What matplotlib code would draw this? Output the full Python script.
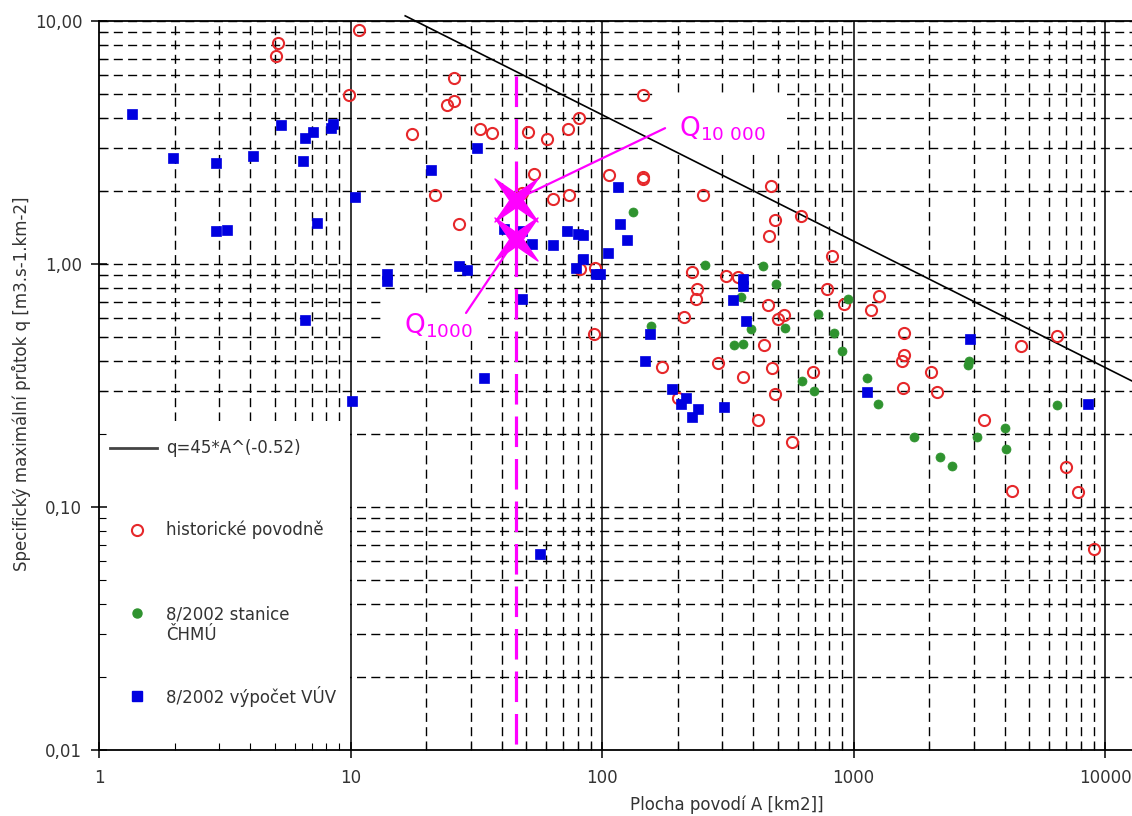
import numpy as np
import matplotlib
matplotlib.use("Agg")
from matplotlib import pyplot as plt
from matplotlib import ticker
from matplotlib.patches import Rectangle
from matplotlib.path import Path
from matplotlib.transforms import Affine2D

plt.rcParams['font.family'] = ['DejaVu Sans']
plt.rcParams['lines.scale_dashes'] = False

#-----------------------------------------------------------------------------------------
# values (area A in km2, specific discharge q in m3.s-1.km-2)

hist_area = [10.8, 5.15, 5.05, 9.86, 25.8, 25.8, 24.2, 17.6, 32.7, 36.5, 50.8, 60.4, 73.3,
             81.0, 145.5, 53.7, 106.6, 145.5, 145.5, 21.7, 63.8, 73.9, 27.0, 252, 48.1,
             228, 311, 347, 93.8, 81.8, 470, 487, 461, 618, 822, 239, 237, 212, 457, 529,
             501, 785, 917, 1174, 1263, 92.9, 441, 173, 289, 364, 474, 690, 487, 201, 417,
             569, 1588, 1588, 1560, 1574, 2033, 2148, 4634, 6443, 3303, 7000, 4266, 7812,
             9040]
hist_q = [9.14, 8.08, 7.21, 4.98, 5.85, 4.70, 4.53, 3.44, 3.60, 3.47, 3.50, 3.28, 3.60,
          4.00, 4.98, 2.35, 2.33, 2.28, 2.24, 1.93, 1.85, 1.93, 1.46, 1.93, 1.96,
          0.927, 0.892, 0.884, 0.963, 0.954, 2.10, 1.52, 1.30, 1.58, 1.08, 0.789, 0.717,
          0.604, 0.678, 0.616, 0.593, 0.789, 0.684, 0.646, 0.738, 0.514, 0.464, 0.376,
          0.391, 0.342, 0.372, 0.359, 0.291, 0.280, 0.227, 0.186, 0.519, 0.421, 0.398,
          0.308, 0.359, 0.297, 0.459, 0.505, 0.227, 0.146, 0.116, 0.115, 0.0674]

chmu_area = [132.8, 257, 437, 492, 357, 722, 951, 157, 391, 534, 836, 335, 364, 900, 624,
             697, 1132, 1251, 1741, 2208, 2465, 2878, 2855, 3098, 4002, 4038, 6443]
chmu_q = [1.64, 0.99, 0.98, 0.827, 0.731, 0.622, 0.717, 0.555, 0.540, 0.545, 0.519, 0.464,
          0.468, 0.438, 0.329, 0.299, 0.339, 0.265, 0.194, 0.160, 0.148, 0.398, 0.383,
          0.195, 0.211, 0.173, 0.262]

vuv_area = [1.35, 1.97, 2.92, 4.10, 2.92, 3.23, 5.29, 6.59, 7.10, 6.47, 7.36, 8.36, 8.52,
            10.4, 6.59, 10.1, 20.9, 31.8, 14.0, 14.0, 27.0, 29.1, 40.8, 48.1, 52.7, 63.8,
            72.6, 80.3, 84.0, 84.0, 78.8, 94.7, 98.2, 105.7, 115.8, 118, 125.7, 48.1, 34.0,
            56.7, 155, 148, 190, 216, 206, 241, 228, 305, 364, 364, 332, 374, 1132, 2905,
            8550]
vuv_q = [4.16, 2.74, 2.61, 2.79, 1.37, 1.38, 3.74, 3.31, 3.50, 2.66, 1.48, 3.64, 3.78,
         1.89, 0.588, 0.272, 2.44, 3.01, 0.91, 0.85, 0.98, 0.945, 1.39, 1.37, 1.21, 1.20,
         1.37, 1.33, 1.32, 1.05, 0.96, 0.91, 0.91, 1.11, 2.08, 1.46, 1.26, 0.717, 0.339,
         0.0643, 0.514, 0.398, 0.305, 0.280, 0.265, 0.252, 0.234, 0.257, 0.867, 0.812,
         0.711, 0.582, 0.297, 0.491, 0.265]

# envelope q = 45*A^(-0.52), end points as drawn
env_area = [16.5, 12800]
env_q = [10.5, 0.33]

# design catchment and the two marked discharges
site_area = 45.5
site_top_q = 5.96
star_q = [1.84, 1.27]

#-----------------------------------------------------------------------------------------

red = '#e6282b'
green = '#2f932f'
blue = '#0000e0'
grey = '#333333'
mag = '#ff00ff'

fig = plt.figure(figsize=(11.32, 8.16), dpi=100)
ax = fig.add_axes([99 / 1132, 66 / 816, 1033 / 1132, 729 / 816])
ax.set_xscale('log')
ax.set_yscale('log')
ax.set_xlim(1, 12800)
ax.set_ylim(0.01, 10)

ax.xaxis.set_major_locator(ticker.LogLocator(base=10, numticks=20))
ax.yaxis.set_major_locator(ticker.LogLocator(base=10, numticks=20))
ax.xaxis.set_minor_locator(ticker.LogLocator(base=10, subs=np.arange(2, 10), numticks=50))
ax.yaxis.set_minor_locator(ticker.LogLocator(base=10, subs=np.arange(2, 10), numticks=50))
ax.xaxis.set_major_formatter(ticker.FuncFormatter(lambda v, p: f'{v:.0f}'))
ax.yaxis.set_major_formatter(ticker.FuncFormatter(lambda v, p: f'{v:.2f}'.replace('.', ',')))
ax.xaxis.set_minor_formatter(ticker.NullFormatter())
ax.yaxis.set_minor_formatter(ticker.NullFormatter())

# ===== grid (drawn by hand so the white boxes can hide it) =====
x0, x1 = ax.get_xlim()
y0, y1 = ax.get_ylim()
xmaj = [v for v in ax.xaxis.get_majorticklocs() if x0 < v <= x1]
xmin = [v for v in ax.xaxis.get_minorticklocs() if x0 < v < x1]
ymaj = [v for v in ax.yaxis.get_majorticklocs() if y0 < v <= y1]
ymin = [v for v in ax.yaxis.get_minorticklocs() if y0 < v < y1]
dash = (0, (6.5, 3.8))
ax.vlines(xmaj, y0, y1, colors='k', lw=1.1, zorder=1)
ax.vlines(xmin, y0, y1, colors='k', lw=1.0, linestyles=[dash], zorder=1)
ax.hlines(ymaj + ymin, x0, x1, colors='k', lw=1.0, linestyles=[dash], zorder=1)

# white boxes behind legend and labels
for (bx, by, bw, bh) in [(0.0, 0.0, 0.243, 0.451),
                         (0.538, 0.820, 0.128, 0.081),
                         (0.275, 0.562, 0.102, 0.065)]:
    ax.add_patch(Rectangle((bx, by), bw, bh, transform=ax.transAxes,
                           facecolor='white', edgecolor='none', zorder=1.5))

# ===== data =====
ax.plot(env_area, env_q, color='k', lw=1.2, zorder=2.5, clip_on=False)
ax.plot(hist_area, hist_q, ls='none', marker='o', ms=8, mfc='none', mec=red, mew=1.5, zorder=3)
ax.plot(chmu_area, chmu_q, ls='none', marker='o', ms=6.5, mfc=green, mec=green, mew=0.5, zorder=3)
ax.plot(vuv_area, vuv_q, ls='none', marker='s', ms=7.5, mfc=blue, mec=blue, mew=0.5, zorder=3)

# ===== magenta marks =====
ax.plot([site_area, site_area], [site_top_q, y0], color=mag, lw=2.3, dashes=(22, 8.6), zorder=4)
ax.annotate('', xy=(site_area, star_q[0]), xytext=(0.548, 0.853), textcoords='axes fraction',
            arrowprops=dict(arrowstyle='-', color=mag, lw=1.6, shrinkA=0, shrinkB=0), zorder=4)
ax.annotate('', xy=(site_area, star_q[1]), xytext=(0.3553, 0.5995), textcoords='axes fraction',
            arrowprops=dict(arrowstyle='-', color=mag, lw=1.6, shrinkA=0, shrinkB=0), zorder=4)
star = Path.unit_regular_star(4, innerCircle=0.22).transformed(Affine2D().rotate_deg(45))
ax.plot([site_area] * 2, star_q, ls='none', marker=star, ms=31, color=mag, zorder=5)
ax.text(0.5615, 0.841, r'$\mathregular{Q_{10\ 000}}$', transform=ax.transAxes,
        fontsize=19, color=mag, va='baseline', zorder=6)
ax.text(0.295, 0.572, r'$\mathregular{Q_{1000}}$', transform=ax.transAxes,
        fontsize=19, color=mag, va='baseline', zorder=6)

# ===== legend (drawn in the lower left box) =====
lx, tx = 0.0368, 0.0649
ax.plot([0.0106, 0.0562], [0.414, 0.414], transform=ax.transAxes, color='#444444', lw=2, zorder=3)
ax.plot(lx, 0.302, transform=ax.transAxes, marker='o', ms=8, mfc='none', mec=red, mew=1.5, zorder=3)
ax.plot(lx, 0.188, transform=ax.transAxes, marker='o', ms=6.5, color=green, zorder=3)
ax.plot(lx, 0.074, transform=ax.transAxes, marker='s', ms=7.5, color=blue, zorder=3)
for ty, lab in [(0.414, 'q=45*A^(-0.52)'), (0.302, 'historické povodně'),
                (0.172, '8/2002 stanice\nČHMÚ'), (0.074, '8/2002 výpočet VÚV')]:
    ax.text(tx, ty, lab, transform=ax.transAxes, fontsize=12, color=grey,
            va='center', ha='left', zorder=3)

# ===== axes styling =====
for s in ['left', 'bottom', 'top']:
    ax.spines[s].set_color('k')
    ax.spines[s].set_linewidth(1.3)
    ax.spines[s].set_zorder(3)
ax.spines['right'].set_visible(False)
ax.tick_params(which='major', direction='inout', length=12, width=1.1,
               labelsize=12, labelcolor=grey, color='k')
ax.tick_params(axis='y', which='major', pad=6)
ax.tick_params(axis='x', which='major', pad=8)
ax.tick_params(which='minor', direction='in', length=5, width=0.8, color='k')

ax.set_xlabel('Plocha povodí A [km2]]', fontsize=12, color=grey)
ax.xaxis.set_label_coords(0.608, -0.063)
ax.set_ylabel('Specifický maximální průtok q [m3.s-1.km-2]', fontsize=12, color=grey)
ax.yaxis.set_label_coords(-0.0658, 0.503)

fig.savefig('out.png', dpi=100)
